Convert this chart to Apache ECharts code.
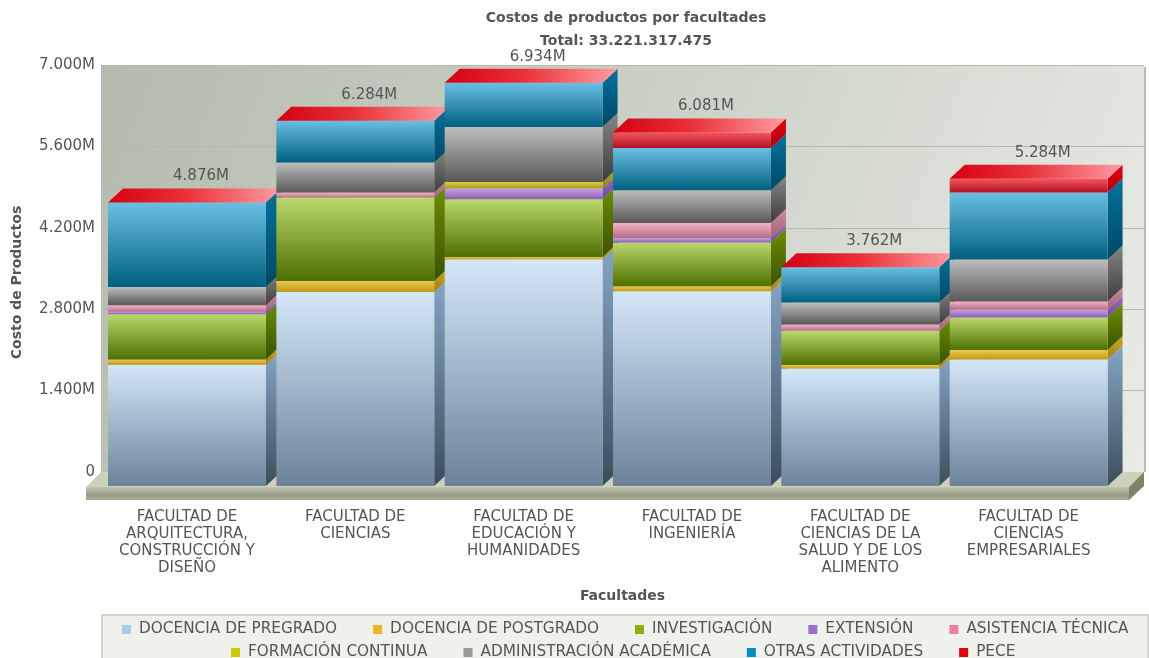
<!DOCTYPE html>
<html>
<head>
<meta charset="utf-8">
<style>
  html, body { margin: 0; padding: 0; background: #fff; }
  #chart { width: 1149px; height: 658px; overflow: hidden; }
</style>
<script src="https://cdn.jsdelivr.net/npm/echarts@6/dist/echarts.min.js"></script>
</head>
<body>
<div id="chart"></div>
<script>
var categories = [
  'FACULTAD DE\nARQUITECTURA,\nCONSTRUCCIÓN Y\nDISEÑO',
  'FACULTAD DE\nCIENCIAS',
  'FACULTAD DE\nEDUCACIÓN Y\nHUMANIDADES',
  'FACULTAD DE\nINGENIERÍA',
  'FACULTAD DE\nCIENCIAS DE LA\nSALUD Y DE LOS\nALIMENTO',
  'FACULTAD DE\nCIENCIAS\nEMPRESARIALES'
];

// valores en millones
var pregrado = [2084, 3338, 3900, 3351, 2022, 2177];
var postgrado = [93, 189, 40, 85, 57, 160];
var investigacion = [778, 1433, 991, 751, 589, 562];
var extension = [40, 0, 189, 79, 0, 137];
var asistencia = [115, 86, 0, 258, 110, 137];
var formacion = [0, 0, 109, 0, 0, 0];
var administracion = [314, 516, 945, 562, 378, 722];
var otras = [1452, 722, 760, 727, 606, 1151];
var pece = [0, 0, 0, 268, 0, 238];

var seriesNames = ['DOCENCIA DE PREGRADO', 'DOCENCIA DE POSTGRADO', 'INVESTIGACIÓN', 'EXTENSIÓN', 'ASISTENCIA TÉCNICA', 'FORMACIÓN CONTINUA', 'ADMINISTRACIÓN ACADÉMICA', 'OTRAS ACTIVIDADES', 'PECE'];
var seriesValues = [pregrado, postgrado, investigacion, extension, asistencia, formacion, administracion, otras, pece];

// color de leyenda, frente (arriba, abajo), lado (arriba, abajo)
var legendColors = ['#a9cdee', '#f0b41e', '#8cb000', '#9b6bd0', '#ee7fa0', '#cccc00', '#999999', '#0090c0', '#e60010'];
var frontColors = [
  ['#d3e7f8', '#6b8299'], ['#ecc84e', '#c09a14'], ['#bbd86c', '#4d7000'],
  ['#c9a0e2', '#8a60b0'], ['#f4b4c6', '#b86c88'], ['#dccb44', '#a89e14'],
  ['#bebebe', '#585858'], ['#68c0e2', '#00607f'], ['#f4565f', '#b01020']
];
var sideColors = [
  ['#86a6c4', '#3c4d5c'], ['#d0a828', '#a08010'], ['#6c9000', '#3a5200'],
  ['#9a70c0', '#6c4a90'], ['#d08aa4', '#a06078'], ['#b8a820', '#8c8010'],
  ['#858585', '#3c3c3c'], ['#00749e', '#004763'], ['#e00010', '#b00010']
];

var DEPTH_X = 15;
var DEPTH_Y = 14;
var TEXT_COLOR = '#555';
var FONT = '"DejaVu Sans"';

function vertical(c) {
  return { type: 'linear', x: 0, y: 0, x2: 0, y2: 1, colorStops: [{ offset: 0, color: c[0] }, { offset: 1, color: c[1] }] };
}

function money(v) {
  if (v === 0) return '0';
  var s = String(v);
  return s.slice(0, s.length - 3) + '.' + s.slice(-3) + 'M';
}

var totals = categories.map(function (c, i) {
  return seriesValues.reduce(function (sum, arr) { return sum + arr[i]; }, 0);
});

function renderSegment(seriesIndex) {
  return function (params, api) {
    var i = api.value(0);
    var base = api.coord([i, api.value(1)]);
    var top = api.coord([i, api.value(2)]);
    var w = api.size([1, 0])[0] * 0.938;
    var x0 = base[0] - w / 2;
    var x1 = base[0] + w / 2;
    var z = i * 20 + seriesIndex;
    var children = [];

    if (base[1] - top[1] > 0.1) {
      children.push({
        type: 'polygon',
        z2: z,
        shape: { points: [[x1, base[1]], [x1 + DEPTH_X, base[1] - DEPTH_Y], [x1 + DEPTH_X, top[1] - DEPTH_Y], [x1, top[1]]] },
        style: { fill: vertical(sideColors[seriesIndex]) }
      });
      children.push({
        type: 'rect',
        z2: z + 1,
        shape: { x: x0, y: top[1], width: w, height: base[1] - top[1] },
        style: { fill: vertical(frontColors[seriesIndex]) }
      });
    }

    // la tapa y el total solo van en la ultima serie
    if (seriesIndex === seriesNames.length - 1) {
      children.push({
        type: 'polygon',
        z2: z + 2,
        shape: { points: [[x0, top[1]], [x0 + DEPTH_X, top[1] - DEPTH_Y], [x1 + DEPTH_X, top[1] - DEPTH_Y], [x1, top[1]]] },
        style: {
          fill: { type: 'linear', x: 0, y: 1, x2: 1, y2: 0, colorStops: [{ offset: 0, color: '#d40012' }, { offset: 0.45, color: '#ea3038' }, { offset: 1, color: '#ff9ca2' }] }
        }
      });
      children.push({
        type: 'text',
        z2: 500,
        style: {
          x: base[0] + DEPTH_X - 1,
          y: top[1] - DEPTH_Y - 12,
          text: money(totals[i]),
          align: 'center',
          verticalAlign: 'middle',
          fill: TEXT_COLOR,
          font: '15px ' + FONT
        }
      });
    }
    return { type: 'group', children: children };
  };
}

var running = categories.map(function () { return 0; });
var series = seriesNames.map(function (name, s) {
  var data = categories.map(function (c, i) {
    var from = running[i];
    running[i] += seriesValues[s][i];
    return [i, from, running[i]];
  });
  return {
    name: name,
    type: 'custom',
    xAxisIndex: 1,
    yAxisIndex: 1,
    clip: false,
    silent: true,
    itemStyle: { color: legendColors[s] },
    renderItem: renderSegment(s),
    encode: { x: 0, y: [1, 2] },
    data: data
  };
});

var legendStyle = {
  orient: 'horizontal',
  icon: 'rect',
  padding: 0,
  itemWidth: 9,
  itemHeight: 9,
  itemGap: 36,
  selectedMode: false,
  textStyle: { color: TEXT_COLOR, fontFamily: FONT, fontSize: 15.3, padding: [0, 0, 0, 3] }
};

var chart = echarts.init(document.getElementById('chart'));
var option = {
  animation: false,
  textStyle: { fontFamily: FONT },
  title: {
    text: 'Costos de productos por facultades\nTotal: 33.221.317.475',
    left: 621,
    top: 2,
    textAlign: 'center',
    textStyle: { color: TEXT_COLOR, fontFamily: FONT, fontSize: 14, fontWeight: 'bold', lineHeight: 23 }
  },
  legend: [
    Object.assign({ left: 122, top: 622, data: seriesNames.slice(0, 5) }, legendStyle),
    Object.assign({ left: 231, top: 645, data: seriesNames.slice(5) }, legendStyle)
  ],
  grid: [
    {
      left: 101, top: 65, width: 1043, height: 407,
      outerBoundsMode: 'none',
      show: true,
      borderWidth: 0,
      backgroundColor: {
        type: 'linear', x: 0, y: 0, x2: 1, y2: 1,
        colorStops: [{ offset: 0, color: '#b5bbae' }, { offset: 0.5, color: '#cdd2c7' }, { offset: 1, color: '#e9ece6' }]
      }
    },
    { left: 102.8, top: 79, width: 1010, height: 407, outerBoundsMode: 'none' }
  ],
  xAxis: [
    {
      type: 'category',
      gridIndex: 0,
      data: categories,
      name: 'Facultades',
      nameLocation: 'middle',
      nameGap: 117,
      nameTextStyle: { color: TEXT_COLOR, fontFamily: FONT, fontSize: 14, fontWeight: 'bold' },
      axisLine: { show: false },
      axisTick: { show: false },
      axisLabel: { show: false }
    },
    {
      type: 'category',
      gridIndex: 1,
      data: categories,
      axisLine: { show: false },
      axisTick: { show: false },
      axisLabel: { interval: 0, margin: 23, color: TEXT_COLOR, fontFamily: FONT, fontSize: 15, lineHeight: 17, align: 'center' }
    }
  ],
  yAxis: [
    {
      type: 'value',
      gridIndex: 0,
      min: 0,
      max: 7000,
      interval: 1400,
      axisLine: { show: false },
      axisTick: { show: false },
      axisLabel: { margin: 6, color: TEXT_COLOR, fontFamily: FONT, fontSize: 15, padding: [3, 0, 0, 0], formatter: money },
      splitLine: { lineStyle: { color: '#b4b99f', width: 1 } }
    },
    {
      type: 'value',
      gridIndex: 1,
      min: 0,
      max: 7000,
      interval: 1400,
      name: 'Costo de Productos',
      nameLocation: 'middle',
      nameGap: 78,
      nameTextStyle: { color: TEXT_COLOR, fontFamily: FONT, fontSize: 14, fontWeight: 'bold' },
      axisLine: { show: false },
      axisTick: { show: false },
      axisLabel: { show: false },
      splitLine: { show: false }
    }
  ],
  graphic: [
    // piso del grafico
    { type: 'polygon', z: 1, silent: true, shape: { points: [[86, 487], [101, 472], [1144, 472], [1129, 487]] }, style: { fill: '#ced1ba' } },
    {
      type: 'rect', z: 1, silent: true,
      shape: { x: 86, y: 487, width: 1043, height: 13 },
      style: { fill: { type: 'linear', x: 0, y: 0, x2: 0, y2: 1, colorStops: [{ offset: 0, color: '#c4c7ae' }, { offset: 0.6, color: '#999d86' }, { offset: 1, color: '#a8ab98' }] } }
    },
    { type: 'polygon', z: 1, silent: true, shape: { points: [[1129, 487], [1144, 472], [1144, 486], [1129, 500]] }, style: { fill: '#7d8268' } },
    { type: 'line', z: 1, silent: true, shape: { x1: 1145, y1: 67, x2: 1145, y2: 472 }, style: { stroke: '#b9bcb1', lineWidth: 2 } },
    // caja de la leyenda
    { type: 'rect', z: 0, silent: true, shape: { x: 102, y: 615, width: 1046, height: 60 }, style: { fill: '#eff1ec', stroke: '#d2d5c8', lineWidth: 2 } }
  ],
  series: series
};
chart.setOption(option);
</script>
</body>
</html>
